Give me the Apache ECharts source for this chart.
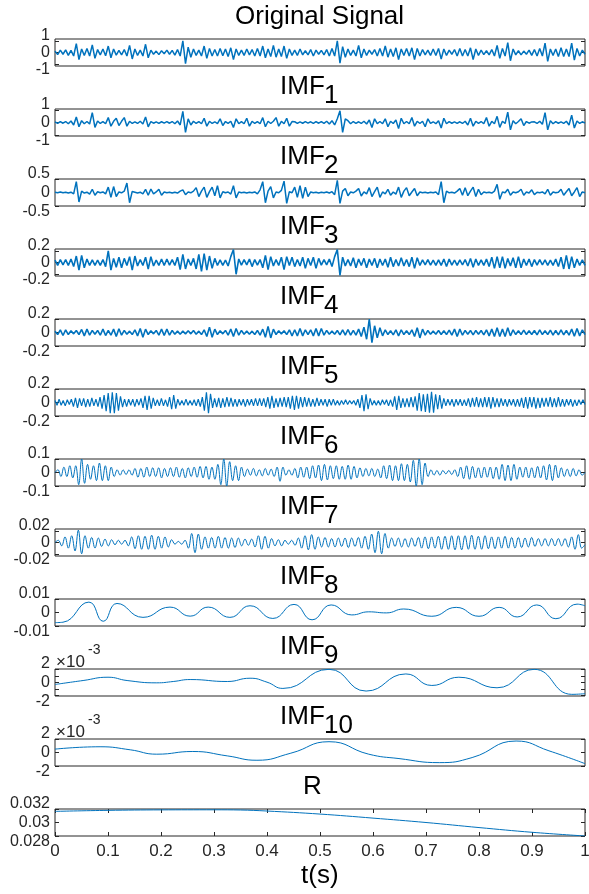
<!DOCTYPE html>
<html>
<head>
<meta charset="utf-8">
<title>EMD decomposition</title>
<script src="https://cdn.jsdelivr.net/npm/echarts@6/dist/echarts.min.js"></script>
<style>
html,body{margin:0;padding:0;background:#fff;}
#main{width:589px;height:894px;}
</style>
</head>
<body>
<div id="main"></div>
<script>
var origSignal = [0.12,-0.18,0.2,-0.15,0.22,-0.25,0.18,-0.3,0.75,-0.6,
0.3,-0.25,0.35,-0.3,0.65,-0.5,0.25,-0.2,0.3,-0.28,
0.55,-0.45,0.3,-0.22,0.18,-0.2,0.25,-0.3,0.6,-0.55,
0.3,-0.25,0.2,-0.3,0.7,-0.45,0.2,-0.15,0.12,-0.18,
0.15,-0.1,0.2,-0.15,0.18,-0.22,0.25,-0.3,1.0,-0.95,
0.45,-0.4,0.3,-0.25,0.2,-0.3,0.55,-0.5,0.35,-0.3,
0.25,-0.3,0.35,-0.28,0.3,-0.35,0.4,-0.6,0.3,-0.25,
0.2,-0.25,0.3,-0.2,0.25,-0.3,0.35,-0.3,0.55,-0.45,
0.3,-0.35,0.6,-0.4,0.3,-0.35,0.55,-0.5,0.3,-0.25,
0.2,-0.25,0.3,-0.2,0.15,-0.2,0.25,-0.3,0.2,-0.15,
0.18,-0.2,0.25,-0.3,0.35,-0.3,1.0,-0.9,0.5,-0.4,
0.3,-0.25,0.2,-0.3,0.6,-0.45,0.3,-0.25,0.2,-0.15,
0.25,-0.3,0.35,-0.3,0.55,-0.4,0.3,-0.35,0.4,-0.6,
0.3,-0.25,0.35,-0.3,0.4,-0.6,0.35,-0.3,0.25,-0.2,
0.2,-0.25,0.3,-0.25,0.35,-0.55,0.3,-0.25,0.2,-0.15,
0.25,-0.3,0.35,-0.3,0.25,-0.3,0.4,-0.6,0.3,-0.25,
0.2,-0.18,0.15,-0.2,0.25,-0.3,0.6,-0.5,0.35,-0.3,
0.85,-0.7,0.3,-0.2,0.15,-0.2,0.12,-0.15,0.2,-0.25,
0.25,-0.3,0.35,-0.3,0.8,-0.75,0.3,-0.25,0.3,-0.35,
0.4,-0.35,0.3,-0.35,0.8,-0.65,0.35,-0.3,0.2,-0.15];

var imf1 = [0.06,-0.08,0.07,-0.06,0.08,-0.1,0.12,-0.2,0.45,-0.35,
0.15,-0.1,0.08,-0.12,0.8,-0.4,0.12,-0.08,0.07,-0.1,
0.4,-0.3,0.1,0.35,-0.25,0.1,0.4,-0.3,0.1,-0.08,
0.06,-0.08,0.1,-0.12,0.45,-0.35,0.08,-0.06,0.05,-0.07,
0.06,-0.05,0.07,-0.06,0.08,-0.1,0.12,-0.2,0.9,-0.8,
0.3,-0.2,0.1,-0.08,0.07,-0.1,0.35,-0.3,0.1,-0.08,
0.06,-0.1,0.3,-0.25,0.08,-0.07,0.1,-0.4,0.3,-0.1,
0.07,-0.1,0.35,-0.3,0.1,-0.08,0.07,-0.1,0.4,-0.35,
0.1,-0.08,0.1,0.4,-0.3,0.1,-0.1,0.35,-0.3,0.08,
0.06,-0.07,0.05,-0.06,0.07,-0.05,0.06,-0.08,0.07,-0.06,
0.08,-0.07,0.1,-0.12,0.15,-0.2,0.3,0.95,-0.8,0.3,
0.15,-0.1,0.08,-0.07,0.06,-0.08,0.1,-0.12,0.2,-0.4,
0.3,-0.1,0.08,-0.1,0.3,-0.35,0.1,-0.08,0.2,-0.5,
0.35,-0.1,0.08,-0.1,0.4,-0.3,0.1,-0.08,0.1,-0.35,
0.3,-0.08,0.06,-0.1,0.15,-0.45,0.35,-0.1,0.07,-0.06,
0.05,-0.07,0.06,-0.08,0.1,-0.2,0.35,-0.3,0.1,-0.07,
0.08,-0.1,0.4,-0.3,0.1,-0.1,0.5,-0.4,0.1,-0.08,
0.85,-0.6,0.15,-0.1,0.08,0.3,-0.25,0.08,-0.06,0.05,
0.06,-0.08,0.1,-0.15,0.8,-0.6,0.15,-0.1,0.07,-0.06,
0.05,-0.07,0.1,-0.2,0.6,-0.45,0.12,-0.08,0.06,-0.05];

var imf2 = [0.01,-0.01,0.02,-0.01,0.01,-0.02,0.01,-0.05,0.4,-0.35,
0.05,-0.02,0.01,-0.06,0.12,-0.1,0.03,-0.01,0.02,-0.05,
0.2,-0.18,0.22,-0.15,0.02,-0.01,0.05,0.35,-0.38,0.04,
0.01,-0.02,0.01,-0.05,0.12,-0.1,0.13,-0.05,0.02,0.12,
-0.1,0.02,-0.01,0.01,-0.02,0.01,-0.02,0.05,0.1,-0.08,
0.02,-0.01,0.05,0.18,-0.15,0.05,0.2,-0.18,0.03,0.2,
-0.12,0.25,-0.2,0.03,-0.01,0.02,-0.06,0.25,-0.2,0.02,
-0.01,0.01,-0.02,0.01,-0.01,0.02,-0.05,0.1,0.4,-0.38,
0.05,0.22,-0.2,0.02,-0.01,0.08,0.42,-0.4,0.03,-0.01,
0.2,-0.18,0.25,-0.22,0.2,-0.15,0.02,-0.01,0.01,-0.02,
0.01,-0.01,0.02,-0.02,0.03,-0.08,0.45,-0.4,0.05,0.15,
-0.12,0.02,-0.01,0.05,0.15,-0.13,0.02,-0.05,0.18,-0.15,
0.03,0.2,-0.18,0.02,-0.05,0.12,-0.1,0.02,-0.06,0.2,
-0.18,0.05,0.18,-0.12,0.02,0.15,-0.12,0.02,-0.01,0.01,
-0.02,0.01,-0.01,0.02,-0.08,0.4,-0.38,0.05,-0.01,0.01,
-0.02,0.05,0.15,-0.1,0.18,-0.12,0.05,0.2,-0.15,0.12,
-0.08,0.02,-0.01,0.01,-0.02,0.05,0.3,-0.25,0.02,-0.01,
0.12,-0.1,0.02,-0.01,0.03,0.12,-0.1,0.02,-0.02,0.1,
-0.08,0.01,-0.01,0.02,-0.05,0.12,-0.1,0.02,-0.01,0.01,
0.12,-0.1,0.03,0.15,-0.12,0.02,0.18,-0.15,0.02,-0.01];

var imf3 = [0.04,-0.05,0.05,-0.04,0.05,-0.05,0.06,-0.07,0.11,-0.13,
0.12,-0.09,0.06,-0.05,0.045,-0.05,0.04,-0.05,0.05,-0.07,
0.2,-0.13,0.07,-0.08,0.09,-0.09,0.07,-0.05,0.1,-0.13,
0.11,-0.06,0.05,-0.05,0.09,-0.11,0.1,-0.06,0.04,-0.05,
0.06,-0.05,0.06,-0.045,0.05,-0.05,0.09,-0.12,0.14,-0.11,
0.06,-0.05,0.07,-0.11,0.14,-0.15,0.15,-0.13,0.11,-0.1,
0.07,-0.05,0.045,-0.05,0.04,-0.06,0.1,0.22,-0.2,0.06,
-0.045,0.05,-0.04,0.06,-0.07,0.05,-0.045,0.05,-0.09,0.12,
-0.12,0.1,-0.06,0.05,-0.05,0.09,-0.12,0.1,-0.05,0.09,
-0.07,0.05,-0.06,0.09,-0.1,0.07,-0.05,0.09,-0.1,0.07,
-0.045,0.05,-0.04,0.06,-0.07,0.1,0.22,-0.22,0.09,-0.06,
0.05,-0.06,0.08,-0.09,0.06,-0.05,0.07,-0.09,0.06,-0.05,
0.07,-0.09,0.06,-0.05,0.06,-0.08,0.09,-0.07,0.05,-0.06,
0.08,-0.06,0.05,-0.07,0.09,-0.1,0.08,-0.05,0.045,-0.04,
0.05,-0.045,0.04,-0.05,0.045,-0.05,0.06,-0.07,0.06,-0.045,
0.04,-0.05,0.045,-0.04,0.05,-0.06,0.07,-0.08,0.06,-0.05,
0.045,-0.05,0.06,-0.07,0.09,-0.1,0.1,-0.09,0.1,-0.1,
0.07,-0.06,0.08,-0.09,0.1,-0.09,0.06,-0.05,0.06,-0.07,
0.05,-0.045,0.05,-0.04,0.045,-0.05,0.04,-0.05,0.06,-0.07,
0.09,-0.11,0.12,-0.11,0.1,-0.09,0.06,-0.05,0.045,-0.05];

var imf4 = [0.02,-0.03,0.04,-0.045,0.04,-0.03,0.025,-0.02,0.03,-0.03,
0.045,-0.05,0.05,-0.04,0.03,-0.025,0.03,-0.04,0.05,-0.045,
0.03,-0.04,0.05,-0.06,0.055,-0.04,0.03,-0.025,0.02,-0.03,
0.04,-0.05,0.06,-0.07,0.05,-0.03,0.025,-0.02,0.03,-0.04,
0.05,-0.045,0.05,-0.04,0.03,-0.025,0.02,-0.025,0.02,-0.02,
0.025,-0.02,0.03,-0.025,0.02,-0.03,0.04,-0.06,0.08,-0.07,
0.05,-0.03,0.025,-0.02,0.03,-0.04,0.05,-0.06,0.06,-0.04,
0.03,-0.025,0.02,-0.025,0.02,-0.03,0.03,-0.04,0.05,-0.07,
0.09,-0.08,0.05,-0.03,0.025,-0.02,0.025,-0.03,0.04,-0.05,
0.04,-0.05,0.06,-0.05,0.04,-0.03,0.04,-0.05,0.06,-0.05,
0.06,-0.04,0.03,-0.025,0.02,-0.025,0.03,-0.035,0.04,-0.04,
0.045,-0.04,0.03,-0.04,0.05,-0.06,0.08,-0.1,0.2,-0.15,
0.1,-0.08,0.07,-0.05,0.04,-0.03,0.025,-0.035,0.04,-0.05,
0.04,-0.03,0.025,-0.03,0.04,-0.06,0.07,-0.08,0.05,-0.04,
0.03,-0.025,0.02,-0.025,0.03,-0.03,0.025,-0.03,0.035,-0.04,
0.05,-0.06,0.05,-0.04,0.03,-0.025,0.03,-0.035,0.03,-0.025,
0.03,-0.035,0.04,-0.05,0.05,-0.06,0.07,-0.06,0.05,-0.06,
0.07,-0.05,0.04,-0.03,0.025,-0.03,0.035,-0.03,0.025,-0.03,
0.03,-0.035,0.04,-0.03,0.025,-0.03,0.035,-0.04,0.03,-0.035,
0.04,-0.035,0.03,-0.04,0.05,-0.055,0.06,-0.05,0.04,-0.03];

var imf5 = [0.03,-0.04,0.05,-0.04,0.03,-0.05,0.04,-0.03,0.05,-0.06,
0.07,-0.08,0.06,-0.05,0.06,-0.07,0.05,-0.06,0.07,-0.05,
0.05,-0.06,0.08,-0.09,0.11,-0.13,0.14,-0.16,0.15,-0.16,
0.14,-0.12,0.09,-0.07,0.05,-0.06,0.05,-0.04,0.05,-0.06,
0.05,-0.04,0.06,-0.08,0.1,-0.11,0.1,-0.09,0.07,-0.05,
0.04,-0.05,0.06,-0.05,0.04,-0.06,0.08,-0.1,0.11,-0.09,
0.05,-0.04,0.03,-0.04,0.05,-0.04,0.03,-0.04,0.04,-0.05,
0.05,-0.06,0.08,-0.12,0.15,-0.16,0.13,-0.08,0.06,-0.07,
0.07,-0.08,0.06,-0.07,0.08,-0.06,0.07,-0.06,0.05,-0.06,
0.05,-0.04,0.05,-0.06,0.05,-0.04,0.05,-0.05,0.06,-0.05,
0.06,-0.05,0.06,-0.07,0.08,-0.09,0.1,-0.08,0.06,-0.07,
0.07,-0.06,0.08,-0.07,0.08,-0.09,0.1,-0.11,0.1,-0.09,
0.08,-0.07,0.08,-0.06,0.07,-0.06,0.05,-0.06,0.07,-0.05,
0.05,-0.04,0.05,-0.06,0.05,-0.04,0.05,-0.04,0.03,-0.04,
0.03,-0.03,0.04,-0.03,0.03,-0.02,0.03,-0.04,0.05,-0.08,
0.11,-0.13,0.12,-0.1,0.06,-0.04,0.03,-0.04,0.03,-0.04,
0.04,-0.03,0.04,-0.05,0.04,-0.06,0.09,-0.11,0.1,-0.08,
0.06,-0.07,0.06,-0.07,0.08,-0.07,0.09,-0.12,0.14,-0.13,
0.12,-0.14,0.13,-0.15,0.16,-0.15,0.12,-0.1,0.11,-0.09,
0.06,-0.05,0.05,-0.04,0.05,-0.06,0.05,-0.04,0.05,-0.05,
0.04,-0.05,0.06,-0.07,0.07,-0.06,0.08,-0.07,0.06,-0.07,
0.08,-0.07,0.08,-0.09,0.08,-0.07,0.06,-0.07,0.06,-0.05,
0.05,-0.06,0.05,-0.04,0.05,-0.06,0.05,-0.06,0.07,-0.08,
0.08,-0.09,0.08,-0.07,0.08,-0.09,0.07,-0.08,0.07,-0.06,
0.07,-0.06,0.08,-0.07,0.06,-0.07,0.08,-0.06,0.05,-0.06,
0.05,-0.04,0.05,-0.06,0.04,-0.05,0.04,-0.03,0.04,-0.03];

var imf6 = [0.0,0.02,-0.03,0.04,-0.03,0.05,-0.04,0.05,-0.09,0.1,
-0.08,0.06,-0.05,0.05,-0.06,0.07,-0.06,0.05,-0.06,0.04,
-0.03,0.02,-0.02,0.02,-0.015,0.02,-0.02,0.03,-0.035,0.03,
-0.035,0.04,-0.03,0.035,-0.03,0.035,-0.04,0.03,-0.03,0.035,
-0.03,0.04,-0.035,0.03,-0.04,0.035,-0.03,0.04,-0.035,0.045,
-0.04,0.045,-0.05,0.04,-0.05,0.06,-0.09,0.1,-0.1,0.08,
-0.06,0.05,-0.06,0.04,-0.03,0.025,-0.02,0.03,-0.025,0.02,
-0.025,0.03,-0.02,0.025,-0.03,0.04,-0.065,0.04,-0.02,0.02,
-0.02,0.03,-0.04,0.04,-0.035,0.04,-0.045,0.05,-0.04,0.055,
-0.06,0.06,-0.055,0.05,-0.045,0.05,-0.05,0.045,-0.05,0.055,
-0.05,0.045,-0.04,0.035,-0.03,0.03,-0.025,0.03,-0.03,0.025,
-0.04,0.05,-0.045,0.055,-0.06,0.05,-0.06,0.065,-0.06,0.06,
-0.07,0.09,-0.1,0.1,-0.09,0.07,-0.03,0.02,-0.02,0.015,
-0.02,0.015,-0.01,0.015,-0.015,0.02,-0.03,0.04,-0.045,0.05,
-0.05,0.045,-0.04,0.035,-0.04,0.04,-0.035,0.04,-0.045,0.04,
-0.05,0.06,-0.06,0.055,-0.06,0.06,-0.05,0.04,-0.035,0.04,
-0.04,0.035,-0.04,0.045,-0.04,0.05,-0.055,0.06,-0.06,0.055,
-0.04,0.035,-0.03,0.025,-0.03,0.03,-0.025,0.02,-0.02,0.0];

var imf7 = [0.0,0.004,-0.006,0.01,-0.01,0.012,-0.015,0.022,-0.02,0.012,
-0.01,0.009,-0.01,0.008,-0.007,0.006,-0.006,0.005,-0.004,0.004,
-0.003,0.004,-0.006,0.01,-0.011,0.012,-0.012,0.011,-0.012,0.013,
-0.012,0.011,-0.01,0.01,-0.008,0.005,-0.003,0.002,-0.003,0.004,
-0.01,0.016,-0.018,0.015,-0.012,0.01,-0.01,0.009,-0.01,0.011,
-0.01,0.009,-0.01,0.008,-0.009,0.008,-0.006,0.006,-0.005,0.006,
-0.008,0.012,-0.012,0.011,-0.01,0.007,-0.006,0.005,-0.006,0.004,
-0.003,0.004,-0.005,0.008,-0.01,0.012,-0.013,0.014,-0.012,0.01,
-0.008,0.009,-0.008,0.007,-0.008,0.008,-0.007,0.008,-0.009,0.008,
-0.007,0.009,-0.01,0.011,-0.012,0.015,-0.018,0.02,-0.02,0.016,
-0.01,0.008,-0.007,0.008,-0.008,0.007,-0.008,0.008,-0.007,0.009,
-0.01,0.01,-0.011,0.01,-0.01,0.011,-0.012,0.011,-0.012,0.012,
-0.013,0.012,-0.013,0.012,-0.012,0.013,-0.012,0.011,-0.012,0.012,
-0.011,0.01,-0.011,0.01,-0.01,0.011,-0.01,0.009,-0.01,0.009,
-0.009,0.008,-0.008,0.009,-0.007,0.007,-0.006,0.007,-0.006,0.007,
-0.006,0.007,-0.006,0.007,-0.008,0.01,-0.012,0.014,-0.01,-0.004];

// slow components: read turning points (t, value)
var imf8T = [0,0.015,0.064,0.091,0.117,0.166,0.217,0.255,0.289,0.33,0.368,0.411,0.451,0.485,
  0.521,0.56,0.592,0.625,0.658,0.711,0.757,0.8,0.838,0.872,0.909,0.945,0.985,1];
var imf8V = [-0.0075,-0.0072,0.0077,-0.0065,0.0067,-0.0036,0.004,-0.0027,0.004,-0.0036,0.005,-0.0044,0.006,-0.0054,
  0.0056,-0.0018,0.0005,-0.0003,0.0026,-0.0028,0.0038,-0.0028,0.0038,-0.0033,0.0056,-0.0046,0.0062,0.005];

// IMF9 and IMF10 in units of 1e-3
var imf9T = [0,0.053,0.1,0.136,0.192,0.223,0.255,0.325,0.368,0.4,0.43,0.517,0.587,0.662,0.711,0.762,0.834,0.904,0.975,1];
var imf9V = [-0.3,0.3,0.8,0.3,-0.05,0.15,0.45,0.15,0.65,0.05,-0.9,2.0,-1.3,1.3,-0.45,0.8,-0.8,2.0,-1.8,-1.7];

var imf10T = [0,0.085,0.142,0.192,0.26,0.325,0.381,0.445,0.517,0.592,0.649,0.725,0.787,0.87,0.932,1];
var imf10V = [0.5,0.85,0.4,-0.25,0.15,-0.5,-1.15,-0.1,1.6,-0.25,-0.9,-1.5,-0.75,1.7,0.25,-1.65];

var resT = [0,0.1,0.2,0.3,0.35,0.4,0.5,0.6,0.7,0.8,0.9,1];
var resV = [0.03165,0.0318,0.03187,0.03188,0.03185,0.0317,0.03125,0.03065,0.03,0.02925,0.02855,0.028];

// tick values
var origTicks = [-1, 0, 1];
var imf1Ticks = [-1, 0, 1];
var imf2Ticks = [-0.5, 0, 0.5];
var imf3Ticks = [-0.2, 0, 0.2];
var imf4Ticks = [-0.2, 0, 0.2];
var imf5Ticks = [-0.2, 0, 0.2];
var imf6Ticks = [-0.1, 0, 0.1];
var imf7Ticks = [-0.02, 0, 0.02];
var imf8Ticks = [-0.01, 0, 0.01];
var imf9Ticks = [-2, -1, 0, 1, 2];
var imf9Labels = [-2, 0, 2];
var imf10Ticks = [-2, 0, 2];
var resTicks = [0.028, 0.03, 0.032];

var FONT = '"Liberation Sans", Arial, Helvetica, sans-serif';
var TXT = '#262626';
var BLUE = '#0072BD';
var LEFT = 55, WIDTH = 530, TOP0 = 39, STEP = 70, HEIGHT = 27;

function evenPairs(vals){
    var out = [];
    for (var i = 0; i < vals.length; i++) {
        out.push([i / (vals.length - 1), vals[i]]);
    }
    return out;
}

function zipPairs(ts, vs){
    var out = [];
    for (var i = 0; i < ts.length; i++) {
        out.push([ts[i], vs[i]]);
    }
    return out;
}

var panels = [
    {title:'Original Signal', tx:235, data:evenPairs(origSignal), min:-1.15, max:1.15, ticks:origTicks, labels:origTicks, smooth:false, lw:1.5},
    {sub:'1', data:evenPairs(imf1), min:-1.1, max:1.1, ticks:imf1Ticks, labels:imf1Ticks, smooth:false, lw:1.5},
    {sub:'2', data:evenPairs(imf2), min:-0.5, max:0.5, ticks:imf2Ticks, labels:imf2Ticks, smooth:false, lw:1.5},
    {sub:'3', data:evenPairs(imf3), min:-0.23, max:0.23, ticks:imf3Ticks, labels:imf3Ticks, smooth:false, lw:1.6},
    {sub:'4', data:evenPairs(imf4), min:-0.2, max:0.2, ticks:imf4Ticks, labels:imf4Ticks, smooth:false, lw:1.6},
    {sub:'5', data:evenPairs(imf5), min:-0.2, max:0.2, ticks:imf5Ticks, labels:imf5Ticks, smooth:false, lw:1.2},
    {sub:'6', data:evenPairs(imf6), min:-0.1, max:0.1, ticks:imf6Ticks, labels:imf6Ticks, smooth:0.4, lw:1},
    {sub:'7', data:evenPairs(imf7), min:-0.024, max:0.024, ticks:imf7Ticks, labels:imf7Ticks, smooth:0.4, lw:1},
    {sub:'8', data:zipPairs(imf8T, imf8V), min:-0.01, max:0.01, ticks:imf8Ticks, labels:imf8Ticks, smooth:0.5, lw:1},
    {sub:'9', data:zipPairs(imf9T, imf9V), min:-2.05, max:2.05, ticks:imf9Ticks, labels:imf9Labels, smooth:0.5, lw:1, exp:true},
    {sub:'10', data:zipPairs(imf10T, imf10V), min:-2, max:2, ticks:imf10Ticks, labels:imf10Ticks, smooth:0.5, lw:1, exp:true},
    {title:'R', tx:303, data:zipPairs(resT, resV), min:0.028, max:0.032, ticks:resTicks, labels:resTicks, smooth:0.4, lw:1}
];

var grids = [], xAxes = [], yAxes = [], series = [], graphics = [];
var last = panels.length - 1;

// one y axis of a panel; each label group sits on its own axis so none hides another
function yAxisFor(k, p, opt){
    return {
        gridIndex:k, type:'value', min:p.min, max:p.max, position:opt.pos || 'left',
        axisLine:{show:false},
        axisTick:{show:!!opt.ticks, inside:true, length:4, customValues:p.ticks, lineStyle:{color:TXT}},
        axisLabel:{show:!!opt.labels, customValues:opt.labels || [], margin:5,
            verticalAlign:opt.va || 'middle', lineHeight:opt.va ? 11 : 16,
            color:TXT, fontSize:16, fontFamily:FONT},
        splitLine:{show:false}
    };
}

panels.forEach(function(p, k){
    var top = TOP0 + STEP * k;
    var isLast = k === last;
    grids.push({left:LEFT, top:top, width:WIDTH, height:HEIGHT, show:true,
        borderColor:TXT, borderWidth:1, outerBoundsMode:'none'});

    xAxes.push({
        gridIndex:k, type:'value', min:0, max:1, interval:0.1,
        axisLine:{show:false},
        axisTick:{show:isLast, inside:true, length:4, lineStyle:{color:TXT}},
        axisLabel:{show:isLast, color:TXT, fontSize:17, fontFamily:FONT, margin:7},
        splitLine:{show:false}
    });

    var lab = p.labels;
    var n = lab.length;
    yAxes.push(yAxisFor(k, p, {ticks:true, labels:[lab[n - 1]], va:'bottom'}));
    yAxes.push(yAxisFor(k, p, {labels:[lab[0]], va:'top'}));
    yAxes.push(yAxisFor(k, p, {labels:lab.slice(1, n - 1)}));
    yAxes.push(yAxisFor(k, p, {ticks:true, pos:'right'}));

    series.push({
        type:'line', xAxisIndex:k, yAxisIndex:4 * k, data:p.data,
        showSymbol:false, symbol:'none', smooth:p.smooth, clip:true,
        lineStyle:{color:BLUE, width:p.lw}
    });

    // titles
    var ty = 4 + STEP * k;
    var tfont = '26px ' + FONT;
    if (p.sub) {
        graphics.push({type:'text', x:280, y:ty, style:{text:'IMF', font:tfont, fill:'#000'}});
        graphics.push({type:'text', x:324, y:ty + 9, style:{text:p.sub, font:tfont, fill:'#000'}});
    } else {
        graphics.push({type:'text', x:p.tx, y:ty, style:{text:p.title, font:tfont, fill:'#000'}});
    }
    if (p.exp) {
        graphics.push({type:'text', x:56, y:top - 15, style:{text:'\u00d710', font:'17px ' + FONT, fill:TXT}});
        graphics.push({type:'text', x:88, y:top - 26, style:{text:'-3', font:'14px ' + FONT, fill:TXT}});
    }
});

// top ticks of the last axes box
xAxes.push({
    gridIndex:last, type:'value', min:0, max:1, interval:0.1, position:'top',
    axisLine:{show:false},
    axisTick:{show:true, inside:true, length:4, lineStyle:{color:TXT}},
    axisLabel:{show:false},
    splitLine:{show:false}
});

graphics.push({type:'text', x:301, y:863, style:{text:'t(s)', font:'26px ' + FONT, fill:'#000'}});

var myChart = echarts.init(document.getElementById('main'));
myChart.setOption({
    animation:false,
    backgroundColor:'#fff',
    grid:grids,
    xAxis:xAxes,
    yAxis:yAxes,
    series:series,
    graphic:graphics
});
</script>
</body>
</html>
